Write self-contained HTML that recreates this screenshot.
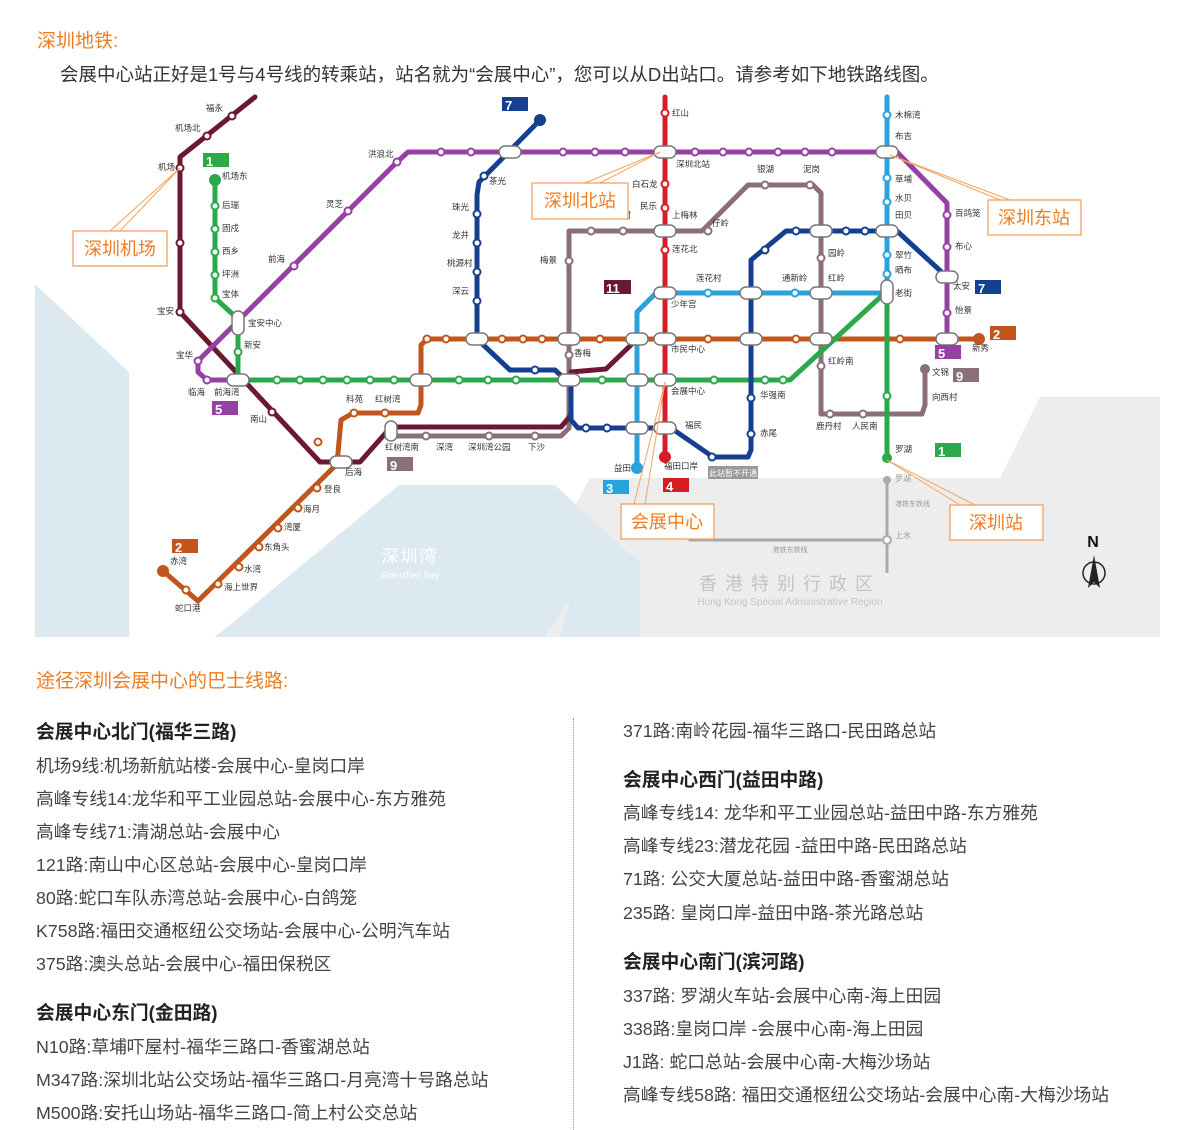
<!DOCTYPE html>
<html><head><meta charset="utf-8">
<style>
body{margin:0;width:1200px;height:1130px;background:#fff;font-family:"Liberation Sans","Noto Sans CJK SC",sans-serif;position:relative;overflow:hidden;color:#333}
.t{position:absolute;white-space:nowrap}
.or{color:#ee7d22;font-size:19px}
.h{font-size:18.8px;font-weight:bold;color:#222}
.l{font-size:17.8px;color:#444}
svg text{font-family:"Liberation Sans","Noto Sans CJK SC",sans-serif}
</style></head><body>
<div class="t or" style="left:37px;top:26px">深圳地铁:</div>
<div class="t" style="left:60px;top:61px;font-size:18.5px;color:#333">会展中心站正好是1号与4号线的转乘站，站名就为“会展中心”，您可以从D出站口。请参考如下地铁路线图。</div>

<svg style="position:absolute;left:0;top:0" width="1200" height="640" viewBox="0 0 1200 640">
<polygon points="35,284 129,372 129,637 35,637" fill="#dde9f1"/>
<polygon points="480,637 545,560 590,478 1000,478 1040,397 1160,397 1160,637" fill="#ededed"/>
<polygon points="215,637 399,485 555,485 625,550 570,600 545,637" fill="#dde9f1"/>
<polygon points="570,600 625,550 640,560 640,637 560,637" fill="#dde9f1"/>
<text x="410" y="562" font-size="17" fill="#fff" text-anchor="middle" letter-spacing="2">深圳湾</text>
<text x="410" y="578" font-size="9" fill="#fff" text-anchor="middle">Shenzhen Bay</text>
<text x="790" y="590" font-size="18" fill="#c4c4c4" text-anchor="middle" letter-spacing="8">香港特别行政区</text>
<text x="790" y="605" font-size="10" fill="#c4c4c4" text-anchor="middle">Hong Kong Special Administrative Region</text>
<polyline points="887,478 887,573" stroke="#aaa" stroke-width="3" fill="none"/>
<polyline points="671,522 690,540 887,540" stroke="#aaa" stroke-width="3" fill="none"/>
<circle cx="887" cy="480" r="4" fill="#aaa"/>
<circle cx="887" cy="540" r="4" fill="#fff" stroke="#aaa" stroke-width="2"/>
<text x="895" y="481" font-size="8" fill="#999">罗湖</text>
<text x="895" y="506" font-size="7" fill="#999">港铁东铁线</text>
<text x="895" y="538" font-size="8" fill="#999">上水</text>
<text x="790" y="552" font-size="7" fill="#999" text-anchor="middle">港铁东铁线</text>

<g fill="none" stroke-width="5" stroke-linejoin="round" stroke-linecap="round">
<polyline stroke="#8a6f78" points="391,436 561,436 569,428 569,231 702,231 748,185 813,185 821,193 821,414 922,414 925,405 925,369"/>
<polyline stroke="#6b1831" points="255,97 180,157 180,312 320,462 360,462 391,427 561,427 571,415 571,372 606,369 633,343"/>
<polyline stroke="#c2551c" points="163,571 198,601 337,464 341,420 353,413 418,413 421,405 421,345 427,339 979,339"/>
<polyline stroke="#9640a6" points="234,380 207,380 198,372 198,361 397,162 408,152 897,152 947,203 947,340"/>
<polyline stroke="#2aa84a" points="215,180 215,298 238,319 238,380 790,380 887,291 887,458"/>
<polyline stroke="#153f8f" points="540,120 479,182 477,195 477,339 510,370 555,370 571,385 571,420 578,428 671,428 713,457 748,457 751,450 751,260 786,231 897,231 947,277"/>
<polyline stroke="#d71c23" points="665,97 665,457"/>
<polyline stroke="#27a3de" points="887,97 887,293 656,293 637,312 637,468"/>
</g>
<circle cx="215" cy="180" r="6" fill="#2aa84a"/>
<circle cx="540" cy="120" r="6" fill="#153f8f"/>
<circle cx="665" cy="457" r="6" fill="#d71c23"/>
<circle cx="637" cy="468" r="6" fill="#27a3de"/>
<circle cx="163" cy="571" r="6" fill="#c2551c"/>
<circle cx="979" cy="339" r="6" fill="#c2551c"/>
<circle cx="887" cy="458" r="5" fill="#2aa84a"/>
<circle cx="925" cy="369" r="5" fill="#8a6f78"/>

<g fill="#fff" stroke-width="2">
<g stroke="#6b1831"><circle cx="232" cy="116" r="3.5"/><circle cx="207" cy="136" r="3.5"/><circle cx="180" cy="168" r="3.5"/><circle cx="180" cy="243" r="3.5"/><circle cx="180" cy="312" r="3.5"/><circle cx="272" cy="412" r="3.5"/></g>
<g stroke="#2aa84a"><circle cx="215" cy="206" r="3.5"/><circle cx="215" cy="229" r="3.5"/><circle cx="215" cy="252" r="3.5"/><circle cx="215" cy="275" r="3.5"/><circle cx="215" cy="298" r="3.5"/><circle cx="238" cy="352" r="3.5"/><circle cx="277" cy="380" r="3.5"/><circle cx="300" cy="380" r="3.5"/><circle cx="323" cy="380" r="3.5"/><circle cx="347" cy="380" r="3.5"/><circle cx="370" cy="380" r="3.5"/><circle cx="394" cy="380" r="3.5"/><circle cx="459" cy="380" r="3.5"/><circle cx="488" cy="380" r="3.5"/><circle cx="516" cy="380" r="3.5"/><circle cx="602" cy="380" r="3.5"/><circle cx="714" cy="380" r="3.5"/><circle cx="765" cy="380" r="3.5"/><circle cx="783" cy="380" r="3.5"/><circle cx="887" cy="396" r="3.5"/></g>
<g stroke="#9640a6"><circle cx="207" cy="380" r="3.5"/><circle cx="198" cy="361" r="3.5"/><circle cx="294" cy="266" r="3.5"/><circle cx="348" cy="211" r="3.5"/><circle cx="397" cy="162" r="3.5"/><circle cx="441" cy="152" r="3.5"/><circle cx="471" cy="152" r="3.5"/><circle cx="563" cy="152" r="3.5"/><circle cx="595" cy="152" r="3.5"/><circle cx="625" cy="152" r="3.5"/><circle cx="695" cy="152" r="3.5"/><circle cx="723" cy="152" r="3.5"/><circle cx="749" cy="152" r="3.5"/><circle cx="778" cy="152" r="3.5"/><circle cx="805" cy="152" r="3.5"/><circle cx="832" cy="152" r="3.5"/><circle cx="947" cy="215" r="3.5"/><circle cx="947" cy="247" r="3.5"/><circle cx="947" cy="313" r="3.5"/></g>
<g stroke="#c2551c"><circle cx="317" cy="488" r="3.5"/><circle cx="298" cy="508" r="3.5"/><circle cx="278" cy="528" r="3.5"/><circle cx="259" cy="547" r="3.5"/><circle cx="239" cy="567" r="3.5"/><circle cx="218" cy="584" r="3.5"/><circle cx="186" cy="590" r="3.5"/><circle cx="318" cy="442" r="3.5"/><circle cx="354" cy="413" r="3.5"/><circle cx="385" cy="413" r="3.5"/><circle cx="427" cy="339" r="3.5"/><circle cx="446" cy="339" r="3.5"/><circle cx="502" cy="339" r="3.5"/><circle cx="523" cy="339" r="3.5"/><circle cx="542" cy="339" r="3.5"/><circle cx="600" cy="339" r="3.5"/><circle cx="708" cy="339" r="3.5"/><circle cx="796" cy="339" r="3.5"/><circle cx="900" cy="339" r="3.5"/></g>
<g stroke="#153f8f"><circle cx="484" cy="176" r="3.5"/><circle cx="477" cy="214" r="3.5"/><circle cx="477" cy="243" r="3.5"/><circle cx="477" cy="272" r="3.5"/><circle cx="477" cy="301" r="3.5"/><circle cx="535" cy="370" r="3.5"/><circle cx="586" cy="428" r="3.5"/><circle cx="607" cy="428" r="3.5"/><circle cx="712" cy="457" r="3.5"/><circle cx="751" cy="398" r="3.5"/><circle cx="751" cy="434" r="3.5"/><circle cx="765" cy="250" r="3.5"/><circle cx="796" cy="231" r="3.5"/><circle cx="846" cy="231" r="3.5"/><circle cx="865" cy="231" r="3.5"/></g>
<g stroke="#8a6f78"><circle cx="569" cy="261" r="3.5"/><circle cx="569" cy="355" r="3.5"/><circle cx="591" cy="231" r="3.5"/><circle cx="623" cy="231" r="3.5"/><circle cx="708" cy="231" r="3.5"/><circle cx="765" cy="185" r="3.5"/><circle cx="810" cy="185" r="3.5"/><circle cx="821" cy="258" r="3.5"/><circle cx="821" cy="366" r="3.5"/><circle cx="830" cy="414" r="3.5"/><circle cx="863" cy="414" r="3.5"/><circle cx="426" cy="436" r="3.5"/><circle cx="489" cy="436" r="3.5"/><circle cx="535" cy="436" r="3.5"/></g>
<g stroke="#d71c23"><circle cx="665" cy="113" r="3.5"/><circle cx="665" cy="184" r="3.5"/><circle cx="665" cy="208" r="3.5"/><circle cx="665" cy="250" r="3.5"/></g>
<g stroke="#27a3de"><circle cx="887" cy="115" r="3.5"/><circle cx="887" cy="178" r="3.5"/><circle cx="887" cy="202" r="3.5"/><circle cx="887" cy="255" r="3.5"/><circle cx="887" cy="274" r="3.5"/><circle cx="708" cy="293" r="3.5"/><circle cx="795" cy="293" r="3.5"/></g>
</g>
<g fill="#fff" stroke="#777" stroke-width="1.5">
<rect x="499" y="146" width="22" height="12" rx="6"/><rect x="654" y="146" width="22" height="12" rx="6"/><rect x="876" y="146" width="22" height="12" rx="6"/>
<rect x="654" y="225" width="22" height="12" rx="6"/><rect x="876" y="225" width="22" height="12" rx="6"/><rect x="810" y="225" width="22" height="12" rx="6"/>
<rect x="654" y="287" width="22" height="12" rx="6"/><rect x="740" y="287" width="22" height="12" rx="6"/><rect x="810" y="287" width="22" height="12" rx="6"/><rect x="881" y="280" width="12" height="24" rx="6"/>
<rect x="466" y="333" width="22" height="12" rx="6"/><rect x="558" y="333" width="22" height="12" rx="6"/><rect x="626" y="333" width="22" height="12" rx="6"/><rect x="654" y="333" width="22" height="12" rx="6"/><rect x="740" y="333" width="22" height="12" rx="6"/><rect x="810" y="333" width="22" height="12" rx="6"/><rect x="936" y="333" width="22" height="12" rx="6"/>
<rect x="227" y="374" width="22" height="12" rx="6"/><rect x="410" y="374" width="22" height="12" rx="6"/><rect x="558" y="374" width="22" height="12" rx="6"/><rect x="626" y="374" width="22" height="12" rx="6"/><rect x="654" y="374" width="22" height="12" rx="6"/>
<rect x="626" y="422" width="22" height="12" rx="6"/><rect x="654" y="422" width="22" height="12" rx="6"/>
<rect x="232" y="311" width="12" height="24" rx="6"/><rect x="330" y="456" width="22" height="12" rx="6"/><rect x="385" y="421" width="12" height="20" rx="6"/><rect x="936" y="271" width="22" height="12" rx="6"/>
</g>
<g font-size="13" font-weight="bold" fill="#fff">
<rect x="203" y="153" width="26" height="14" fill="#2aa84a"/><text x="206" y="166">1</text>
<rect x="502" y="97" width="26" height="14" fill="#153f8f"/><text x="505" y="110">7</text>
<rect x="604" y="280" width="27" height="14" fill="#6b1831"/><text x="606" y="293">11</text>
<rect x="990" y="326" width="26" height="14" fill="#c2551c"/><text x="993" y="339">2</text>
<rect x="935" y="345" width="26" height="14" fill="#9640a6"/><text x="938" y="358">5</text>
<rect x="953" y="368" width="26" height="14" fill="#8a6f78"/><text x="956" y="381">9</text>
<rect x="935" y="443" width="26" height="14" fill="#2aa84a"/><text x="938" y="456">1</text>
<rect x="975" y="280" width="26" height="14" fill="#153f8f"/><text x="978" y="293">7</text>
<rect x="603" y="480" width="26" height="14" fill="#27a3de"/><text x="606" y="493">3</text>
<rect x="663" y="478" width="26" height="14" fill="#d71c23"/><text x="666" y="491">4</text>
<rect x="172" y="539" width="26" height="14" fill="#c2551c"/><text x="175" y="552">2</text>
<rect x="212" y="401" width="26" height="14" fill="#9640a6"/><text x="215" y="414">5</text>
<rect x="387" y="457" width="26" height="14" fill="#8a6f78"/><text x="390" y="470">9</text>
</g>
<rect x="708" y="466" width="50" height="13" fill="#999"/><text x="733" y="476" font-size="8" fill="#fff" text-anchor="middle">此站暂不开通</text>
<g font-size="8.5" fill="#333">
<text x="206" y="111">福永</text><text x="175" y="131">机场北</text><text x="158" y="170">机场</text><text x="222" y="179">机场东</text>
<text x="222" y="208">后瑞</text><text x="222" y="231">固戍</text><text x="222" y="254">西乡</text><text x="222" y="277">坪洲</text><text x="222" y="297">宝体</text>
<text x="248" y="326">宝安中心</text><text x="244" y="348">新安</text><text x="157" y="314">宝安</text><text x="176" y="358">宝华</text><text x="188" y="395">临海</text><text x="214" y="395">前海湾</text>
<text x="250" y="422">南山</text><text x="345" y="475">后海</text><text x="324" y="492">登良</text><text x="303" y="512">海月</text><text x="284" y="530">湾厦</text><text x="264" y="550">东角头</text><text x="244" y="572">水湾</text><text x="224" y="590">海上世界</text><text x="170" y="564">赤湾</text><text x="175" y="611">蛇口港</text>
<text x="346" y="402">科苑</text><text x="375" y="402">红树湾</text><text x="385" y="450">红树湾南</text><text x="436" y="450">深湾</text><text x="468" y="450">深圳湾公园</text><text x="528" y="450">下沙</text>
<text x="268" y="262">前海</text><text x="326" y="207">灵芝</text><text x="368" y="157">洪浪北</text><text x="489" y="184">茶光</text><text x="452" y="210">珠光</text><text x="452" y="238">龙井</text><text x="447" y="266">桃源村</text><text x="452" y="294">深云</text>
<text x="540" y="263">梅景</text><text x="574" y="356">香梅</text><text x="580" y="218">下梅林</text><text x="614" y="218">梅村</text>
<text x="672" y="116">红山</text><text x="676" y="167">深圳北站</text><text x="632" y="187">白石龙</text><text x="640" y="209">民乐</text><text x="672" y="218">上梅林</text><text x="672" y="252">莲花北</text><text x="712" y="226">仔岭</text>
<text x="757" y="172">银湖</text><text x="803" y="172">泥岗</text><text x="696" y="281">莲花村</text><text x="782" y="281">通新岭</text><text x="828" y="281">红岭</text><text x="828" y="256">园岭</text>
<text x="671" y="307">少年宫</text><text x="671" y="352">市民中心</text><text x="671" y="394">会展中心</text><text x="685" y="428">福民</text><text x="664" y="469">福田口岸</text>
<text x="760" y="398">华强南</text><text x="760" y="436">赤尾</text><text x="828" y="364">红岭南</text><text x="816" y="429">鹿丹村</text><text x="852" y="429">人民南</text>
<text x="895" y="118">木棉湾</text><text x="895" y="139">布吉</text><text x="895" y="182">草埔</text><text x="895" y="201">水贝</text><text x="895" y="218">田贝</text><text x="895" y="258">翠竹</text><text x="895" y="273">晒布</text><text x="895" y="296">老街</text><text x="895" y="452">罗湖</text>
<text x="955" y="216">百鸽笼</text><text x="955" y="249">布心</text><text x="953" y="289">太安</text><text x="955" y="313">怡景</text><text x="972" y="351">新秀</text><text x="932" y="375">文锦</text><text x="932" y="400">向西村</text>
<text x="614" y="471">益田</text>
</g>
<text x="1093" y="547" font-size="16" font-weight="bold" fill="#111" text-anchor="middle">N</text>
<circle cx="1094" cy="573" r="11" fill="none" stroke="#222" stroke-width="1.5"/>
<polygon points="1094,555 1088,588 1094,582 1100,588" fill="#222"/>
<g stroke="#f4a460" stroke-width="1" fill="none">
<line x1="180" y1="168" x2="110" y2="231"/><line x1="180" y1="168" x2="120" y2="231"/>
<line x1="660" y1="152" x2="585" y2="183"/><line x1="660" y1="152" x2="600" y2="183"/>
<line x1="890" y1="155" x2="1000" y2="200"/><line x1="890" y1="155" x2="1010" y2="200"/>
<line x1="887" y1="460" x2="960" y2="505"/><line x1="887" y1="460" x2="975" y2="505"/>
<line x1="665" y1="382" x2="634" y2="504"/><line x1="665" y1="382" x2="645" y2="504"/>
</g>
<g fill="#fff" stroke="#f0a060" stroke-width="1.3">
<rect x="73" y="231" width="94" height="35"/><rect x="532" y="183" width="96" height="36"/><rect x="988" y="200" width="93" height="35"/><rect x="950" y="505" width="93" height="35"/><rect x="621" y="504" width="93" height="35"/>
</g>
<g font-size="18" fill="#ee7d22" text-anchor="middle">
<text x="120" y="255">深圳机场</text><text x="580" y="207">深圳北站</text><text x="1034" y="224">深圳东站</text><text x="996" y="529">深圳站</text><text x="667" y="528">会展中心</text>
</g>
</svg>

<div class="t or" style="left:36px;top:666px">途径深圳会展中心的巴士线路:</div>
<div style="position:absolute;left:573px;top:718px;height:412px;border-left:1px dotted #999"></div>
<div class="t h" style="left:36px;top:717px">会展中心北门(福华三路)</div>
<div class="t l" style="left:36px;top:752px">机场9线:机场新航站楼-会展中心-皇岗口岸</div>
<div class="t l" style="left:36px;top:785px">高峰专线14:龙华和平工业园总站-会展中心-东方雅苑</div>
<div class="t l" style="left:36px;top:818px">高峰专线71:清湖总站-会展中心</div>
<div class="t l" style="left:36px;top:851px">121路:南山中心区总站-会展中心-皇岗口岸</div>
<div class="t l" style="left:36px;top:884px">80路:蛇口车队赤湾总站-会展中心-白鸽笼</div>
<div class="t l" style="left:36px;top:917px">K758路:福田交通枢纽公交场站-会展中心-公明汽车站</div>
<div class="t l" style="left:36px;top:950px">375路:澳头总站-会展中心-福田保税区</div>
<div class="t h" style="left:36px;top:998px">会展中心东门(金田路)</div>
<div class="t l" style="left:36px;top:1033px">N10路:草埔吓屋村-福华三路口-香蜜湖总站</div>
<div class="t l" style="left:36px;top:1066px">M347路:深圳北站公交场站-福华三路口-月亮湾十号路总站</div>
<div class="t l" style="left:36px;top:1099px">M500路:安托山场站-福华三路口-简上村公交总站</div>

<div class="t l" style="left:623px;top:717px">371路:南岭花园-福华三路口-民田路总站</div>
<div class="t h" style="left:623px;top:765px">会展中心西门(益田中路)</div>
<div class="t l" style="left:623px;top:799px">高峰专线14: 龙华和平工业园总站-益田中路-东方雅苑</div>
<div class="t l" style="left:623px;top:832px">高峰专线23:潜龙花园 -益田中路-民田路总站</div>
<div class="t l" style="left:623px;top:865px">71路: 公交大厦总站-益田中路-香蜜湖总站</div>
<div class="t l" style="left:623px;top:899px">235路: 皇岗口岸-益田中路-茶光路总站</div>
<div class="t h" style="left:623px;top:947px">会展中心南门(滨河路)</div>
<div class="t l" style="left:623px;top:982px">337路: 罗湖火车站-会展中心南-海上田园</div>
<div class="t l" style="left:623px;top:1015px">338路:皇岗口岸 -会展中心南-海上田园</div>
<div class="t l" style="left:623px;top:1048px">J1路: 蛇口总站-会展中心南-大梅沙场站</div>
<div class="t l" style="left:623px;top:1081px">高峰专线58路: 福田交通枢纽公交场站-会展中心南-大梅沙场站</div>
</body></html>
